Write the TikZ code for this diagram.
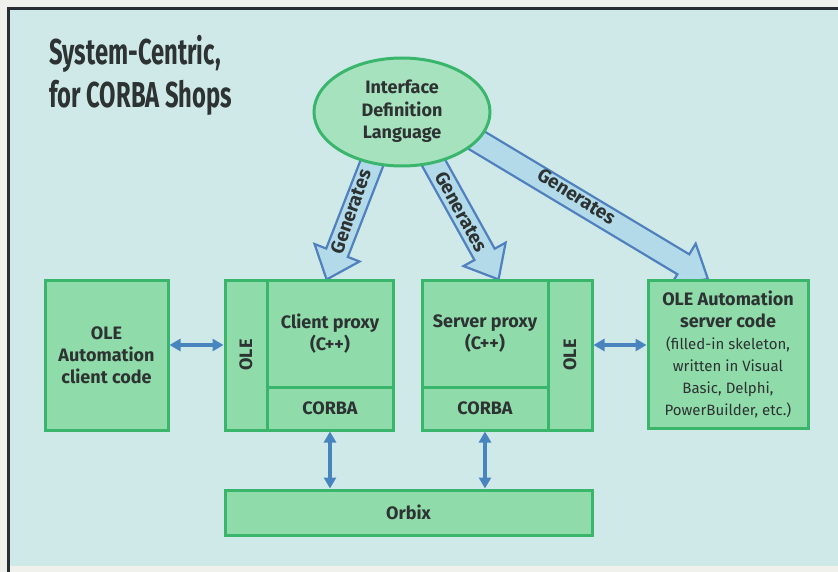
\documentclass[tikz,border=0pt]{standalone}
\usepackage{fontspec}
\usepackage{graphicx}
\setmainfont{Fira Sans}
\newfontfamily\titlefont[FakeStretch=0.66]{Fira Sans}
\usetikzlibrary{shapes.geometric,shapes.arrows,arrows.meta,calc,backgrounds}

\definecolor{paper}{RGB}{240,241,236}
\definecolor{panel}{RGB}{207,233,233}
\definecolor{frameline}{RGB}{40,46,52}
\definecolor{boxfill}{RGB}{143,219,170}
\definecolor{boxline}{RGB}{58,182,108}
\definecolor{idlfill}{RGB}{166,226,190}
\definecolor{linkblue}{RGB}{72,132,190}
\definecolor{genfill}{RGB}{178,218,232}
\definecolor{genline}{RGB}{80,128,190}
\definecolor{ink}{RGB}{45,50,50}

\tikzstyle{olebox}=[rectangle, draw=boxline, fill=boxfill, line width=3pt,% green block
inner sep=0pt, text=ink, align=center, font=\bfseries\fontsize{18}{22}\selectfont]
\tikzstyle{idlnode}=[ellipse, draw=boxline, fill=idlfill, line width=3pt,
minimum width=176pt, minimum height=108pt, inner sep=0pt, text=ink, align=center,
font=\bfseries\fontsize{18}{22.5}\selectfont]
\tikzstyle{link}=[{Triangle[length=11pt,width=12pt]}-{Triangle[length=11pt,width=12pt]}, draw=linkblue, line width=3.5pt]
\tikzstyle{genarrow}=[single arrow, draw=genline, fill=genfill, line width=2.2pt,% fat arrow
inner xsep=0pt, inner ysep=10.5pt, single arrow head extend=12.5pt,
single arrow tip angle=80, anchor=tail, sloped, allow upside down]
\tikzstyle{gentext}=[text=ink, font=\bfseries\fontsize{19}{22}\selectfont, sloped]

\begin{document}
\begin{tikzpicture}[x=1pt,y=-1pt]
\useasboundingbox (0,0) rectangle (838,572);

\node[anchor=base west, align=left, text=ink, font=\titlefont\bfseries\fontsize{36}{43}\selectfont] (title) at (46,108) {System-Centric,\\for CORBA Shops};

\node[idlnode] (idl) at (402,112) {\raisebox{-3pt}{\begin{tabular}{@{}c@{}}Interface\\Definition\\Language\end{tabular}}};

\node[olebox, minimum width=123pt, minimum height=150pt] (clicode) at (106.5,355) {OLE\\Automation\\client code};

\node[olebox, minimum width=42pt, minimum height=150pt] (cliole) at (246,355) {\rotatebox{90}{OLE}};
\node[olebox, minimum width=126pt, minimum height=107pt] (cliproxy) at (330,333.5) {Client proxy\\(C++)};
\node[olebox, minimum width=126pt, minimum height=43pt] (clicorba) at (330,408.5) {CORBA};

\node[olebox, minimum width=126pt, minimum height=107pt] (srvproxy) at (485,333.5) {Server proxy\\(C++)};
\node[olebox, minimum width=126pt, minimum height=43pt] (srvcorba) at (485,408.5) {CORBA};
\node[olebox, minimum width=44pt, minimum height=150pt] (srvole) at (570,355) {\rotatebox{90}{OLE}};

\node[olebox, minimum width=160pt, minimum height=148pt] (srvcode) at (728,354) {OLE Automation\\server code\\
{\mdseries\fontsize{15}{21.5}\selectfont (filled-in skeleton,}\\
{\mdseries\fontsize{15}{21.5}\selectfont written in Visual}\\
{\mdseries\fontsize{15}{21.5}\selectfont Basic, Delphi,}\\
{\mdseries\fontsize{15}{21.5}\selectfont PowerBuilder, etc.)}};

\node[olebox, minimum width=367pt, minimum height=45pt] (orbix) at (408.5,512.5) {Orbix};

\draw[link] ([yshift=10pt]clicode.east) -- ([yshift=10pt]cliole.west);
\draw[link] ([yshift=10pt]srvole.east) -- ([yshift=9pt]srvcode.west);
\draw[link] (clicorba.south) -- (clicorba.south |- orbix.north);
\draw[link] (srvcorba.south) -- (srvcorba.south |- orbix.north);

\coordinate (g1s) at ($(idl.center)!0.7!(idl.-124)$);
\coordinate (g2s) at ($(idl.center)!0.7!(idl.-57)$);
\coordinate (g3s) at ($(idl.center)!0.7!(idl.-17)$);
\coordinate (g1e) at ([xshift=-3pt]cliproxy.north);
\coordinate (g2e) at ([xshift=13pt]srvproxy.north);
\coordinate (g3e) at ([xshift=-21pt]srvcode.north);

\begin{pgfonlayer}{background}
\fill[paper] (0,0) rectangle (838,572);
\fill[panel] (9,10) rectangle (838,566);
\draw[frameline, line width=3pt] (8.5,572) -- (8.5,9) -- (838,9);
\path let \p1=($(g1e)-(g1s)$), \n1={veclen(\x1,\y1)} in (g1s) -- (g1e) node[genarrow, pos=0, minimum height=\n1] (gen1) {};
\path let \p1=($(g2e)-(g2s)$), \n1={veclen(\x1,\y1)} in (g2s) -- (g2e) node[genarrow, pos=0, minimum height=\n1] (gen2) {};
\path let \p1=($(g3e)-(g3s)$), \n1={veclen(\x1,\y1)} in (g3s) -- (g3e) node[genarrow, pos=0, minimum height=\n1] (gen3) {};
\end{pgfonlayer}

\path (idl.-124) -- (g1e) node[gentext, pos=0.42] (gen1txt) {Generates};
\path (idl.-57) -- (g2e) node[gentext, pos=0.42] (gen2txt) {Generates};
\path (idl.-17) -- (g3e) node[gentext, pos=0.42] (gen3txt) {Generates};

\end{tikzpicture}
\end{document}
